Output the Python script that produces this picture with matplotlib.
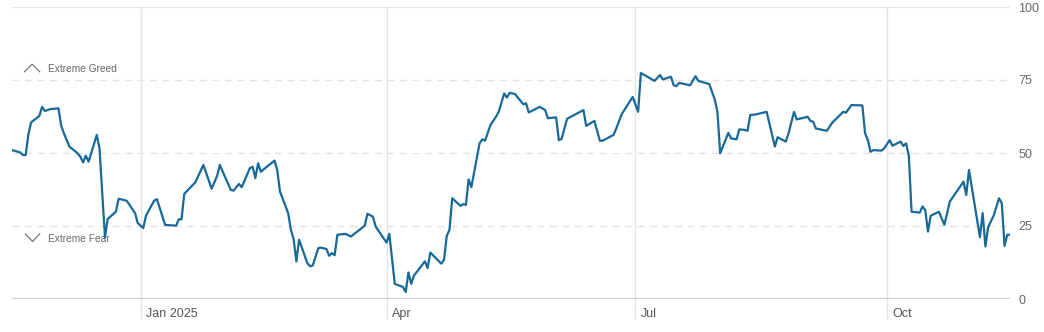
import pandas as pd
import matplotlib.pyplot as plt
import matplotlib.transforms as mtransforms

plt.rcParams['font.family'] = ['Liberation Sans', 'DejaVu Sans']

# Fear & Greed index
dates = [
    "2024-11-15", "2024-11-18", "2024-11-19", "2024-11-20", "2024-11-21", "2024-11-22",
    "2024-11-25", "2024-11-26", "2024-11-27", "2024-11-29", "2024-12-02", "2024-12-03",
    "2024-12-04", "2024-12-06", "2024-12-09", "2024-12-10", "2024-12-11", "2024-12-12",
    "2024-12-13", "2024-12-16", "2024-12-17", "2024-12-19", "2024-12-20", "2024-12-23",
    "2024-12-24", "2024-12-26", "2024-12-27", "2024-12-30", "2024-12-31", "2025-01-02",
    "2025-01-03", "2025-01-06", "2025-01-07", "2025-01-10", "2025-01-14", "2025-01-15",
    "2025-01-16", "2025-01-17", "2025-01-21", "2025-01-24", "2025-01-27", "2025-01-29",
    "2025-01-30", "2025-02-03", "2025-02-04", "2025-02-06", "2025-02-07", "2025-02-10",
    "2025-02-11", "2025-02-12", "2025-02-13", "2025-02-14", "2025-02-19", "2025-02-20",
    "2025-02-21", "2025-02-24", "2025-02-25", "2025-02-26", "2025-02-27", "2025-02-28",
    "2025-03-03", "2025-03-04", "2025-03-05", "2025-03-07", "2025-03-08", "2025-03-10",
    "2025-03-11", "2025-03-12", "2025-03-13", "2025-03-14", "2025-03-17", "2025-03-19",
    "2025-03-24", "2025-03-25", "2025-03-27", "2025-03-28", "2025-04-01", "2025-04-02",
    "2025-04-04", "2025-04-07", "2025-04-08", "2025-04-09", "2025-04-10", "2025-04-11",
    "2025-04-15", "2025-04-16", "2025-04-17", "2025-04-21", "2025-04-22", "2025-04-23",
    "2025-04-24", "2025-04-25", "2025-04-28", "2025-04-29", "2025-04-30", "2025-05-01",
    "2025-05-02", "2025-05-05", "2025-05-06", "2025-05-07", "2025-05-09", "2025-05-11",
    "2025-05-12", "2025-05-14", "2025-05-15", "2025-05-16", "2025-05-18", "2025-05-19",
    "2025-05-21", "2025-05-22", "2025-05-23", "2025-05-27", "2025-05-29", "2025-05-30",
    "2025-06-02", "2025-06-03", "2025-06-04", "2025-06-06", "2025-06-12", "2025-06-13",
    "2025-06-16", "2025-06-18", "2025-06-19", "2025-06-23", "2025-06-24", "2025-06-26",
    "2025-06-30", "2025-07-02", "2025-07-03", "2025-07-08", "2025-07-10", "2025-07-11",
    "2025-07-14", "2025-07-15", "2025-07-16", "2025-07-17", "2025-07-21", "2025-07-23",
    "2025-07-24", "2025-07-28", "2025-07-30", "2025-07-31", "2025-08-01", "2025-08-04",
    "2025-08-05", "2025-08-07", "2025-08-08", "2025-08-10", "2025-08-11", "2025-08-12",
    "2025-08-14", "2025-08-18", "2025-08-21", "2025-08-22", "2025-08-25", "2025-08-26",
    "2025-08-28", "2025-08-29", "2025-09-02", "2025-09-03", "2025-09-04", "2025-09-05",
    "2025-09-09", "2025-09-11", "2025-09-15", "2025-09-16", "2025-09-18", "2025-09-22",
    "2025-09-23", "2025-09-24", "2025-09-25", "2025-09-26", "2025-09-29", "2025-09-30",
    "2025-10-02", "2025-10-03", "2025-10-06", "2025-10-07", "2025-10-08", "2025-10-09",
    "2025-10-10", "2025-10-13", "2025-10-14", "2025-10-15", "2025-10-16", "2025-10-17",
    "2025-10-20", "2025-10-22", "2025-10-24", "2025-10-29", "2025-10-30", "2025-10-31",
    "2025-11-04", "2025-11-05", "2025-11-06", "2025-11-07", "2025-11-09", "2025-11-11",
    "2025-11-12", "2025-11-13", "2025-11-14", "2025-11-15",
]
values = [
    51.0, 50.2, 49.3, 49.3, 56.4, 60.5,
    62.7, 65.8, 64.4, 65.0, 65.3, 59.3,
    56.7, 52.2, 49.9, 48.7, 46.8, 49.1,
    47.0, 56.2, 51.6, 21.1, 27.4, 29.9,
    34.3, 33.9, 33.6, 29.4, 26.0, 24.3,
    28.5, 33.7, 34.2, 25.4, 25.1, 27.3,
    27.3, 36.0, 39.9, 45.9, 37.8, 42.1,
    45.9, 37.4, 37.1, 39.4, 38.3, 44.8,
    45.3, 41.4, 46.5, 43.6, 47.4, 44.2,
    36.8, 29.4, 23.7, 20.5, 12.9, 20.3,
    12.3, 11.2, 11.5, 17.4, 17.6, 17.1,
    14.8, 15.7, 15.0, 22.0, 22.3, 21.4,
    25.1, 29.2, 28.2, 24.8, 19.3, 22.3,
    5.2, 4.1, 2.4, 9.1, 5.2, 8.0,
    12.9, 10.6, 15.9, 12.1, 13.4, 21.6,
    23.7, 34.5, 31.9, 32.5, 32.2, 41.0,
    38.3, 53.3, 54.7, 54.2, 59.6, 62.4,
    64.1, 70.4, 69.0, 70.6, 70.2, 69.0,
    66.7, 67.0, 63.9, 65.8, 64.7, 61.9,
    62.2, 54.4, 54.8, 61.7, 64.7, 59.3,
    61.0, 54.2, 54.2, 56.2, 58.4, 63.3,
    69.2, 64.1, 77.4, 74.7, 76.7, 75.2,
    76.1, 73.2, 72.9, 74.0, 73.2, 76.3,
    74.7, 73.6, 68.4, 64.1, 49.9, 56.9,
    55.0, 54.7, 58.1, 57.9, 57.6, 63.0,
    63.2, 64.1, 52.2, 55.4, 53.9, 56.7,
    64.1, 61.5, 62.4, 61.0, 60.7, 58.4,
    57.6, 60.4, 64.1, 63.8, 66.4, 66.3,
    56.7, 54.5, 50.4, 51.0, 50.8, 51.6,
    54.4, 52.5, 53.9, 52.4, 53.3, 49.0,
    29.9, 29.6, 31.7, 30.5, 23.1, 28.5,
    29.9, 25.4, 33.4, 40.2, 35.6, 44.2,
    21.2, 29.4, 18.0, 24.6, 28.5, 34.5,
    32.8, 18.2, 22.0, 22.0,
]

month_ticks = ["2025-01-01", "2025-04-01", "2025-07-01", "2025-10-01"]
month_labels = ["Jan 2025", "Apr", "Jul", "Oct"]
y_ticks = [0, 25, 50, 75, 100]

data = pd.DataFrame({"date": pd.to_datetime(dates), "value": values})
ticks = pd.to_datetime(month_ticks)

fig = plt.figure(figsize=(10.44, 3.32), dpi=100)
ax = fig.add_axes([12 / 1044, 33 / 332, 998 / 1044, 292 / 332])

# month gridlines, running down past the baseline
for t in ticks:
    ax.axvline(t, ymin=-0.065, ymax=1, color='#e4e4e4', lw=1, clip_on=False, zorder=0)

# horizontal guides
for v in [25, 50, 75]:
    ax.axhline(v, color='#e2e2e2', lw=1, linestyle=(0, (5, 4)), zorder=0)
ax.axhline(100, color='#e6e6e6', lw=1, zorder=0)
ax.axhline(0, color='#cfcfcf', lw=1.6, zorder=1)

ax.plot(data['date'], data['value'], color='#17699a', lw=1.6, solid_joinstyle='round', zorder=3)

ax.set_xlim(data['date'].iloc[0], data['date'].iloc[-1])
ax.set_ylim(0, 100)

for s in ax.spines.values():
    s.set_visible(False)

ax.set_xticks([])
ax.yaxis.tick_right()
ax.set_yticks(y_ticks)
ax.set_yticklabels([str(v) for v in y_ticks])
ax.tick_params(axis='y', length=0, pad=6, labelsize=9, labelcolor='#666666')

# month labels to the right of their gridlines
trans = mtransforms.blended_transform_factory(ax.transData, ax.transAxes)
offset = mtransforms.ScaledTranslation(5 / 100, 0, fig.dpi_scale_trans)
for t, lab in zip(ticks, month_labels):
    ax.text(t, -0.05, lab, transform=trans + offset, ha='left', va='center',
            fontsize=9, color='#555555')

# zone markers
ax.plot([25 / 1044 - 12 / 1044, 33 / 1044 - 12 / 1044, 41 / 1044 - 12 / 1044],
        [77.8, 80.4, 77.8], color='#777777', lw=0.9,
        transform=mtransforms.blended_transform_factory(ax.transAxes, ax.transData),
        clip_on=False)
ax.plot([26 / 1044 - 12 / 1044, 33.5 / 1044 - 12 / 1044, 41 / 1044 - 12 / 1044],
        [22.3, 19.7, 22.3], color='#777777', lw=0.9,
        transform=mtransforms.blended_transform_factory(ax.transAxes, ax.transData),
        clip_on=False)
ax.text(38 / 1044, 78.9, "Extreme Greed", transform=mtransforms.blended_transform_factory(ax.transAxes, ax.transData),
        ha='left', va='center', fontsize=7.3, color='#666666')
ax.text(38 / 1044, 20.4, "Extreme Fear", transform=mtransforms.blended_transform_factory(ax.transAxes, ax.transData),
        ha='left', va='center', fontsize=7.3, color='#666666', zorder=2)

plt.savefig("out.png", dpi=100)
